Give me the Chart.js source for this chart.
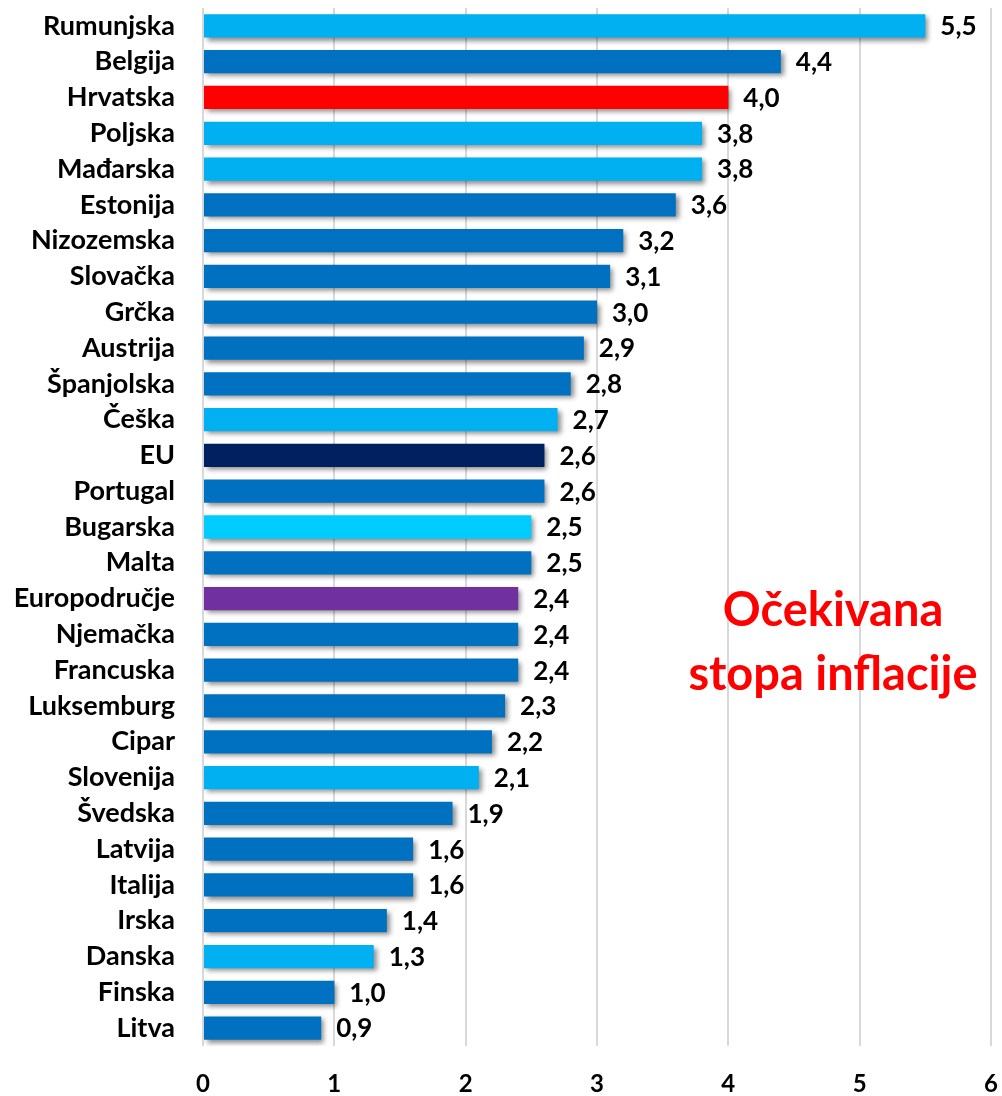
<!DOCTYPE html>
<html><head><meta charset="utf-8">
<script src="https://cdn.jsdelivr.net/npm/chart.js@4"></script>
<style>html,body{margin:0;padding:0;background:#fff;}#wrap{width:1002px;height:1096px;position:relative;}</style>
</head><body><div id="wrap"><canvas id="c" width="1002" height="1096"></canvas></div>
<script>
const categories = ["Rumunjska","Belgija","Hrvatska","Poljska","Mađarska","Estonija","Nizozemska","Slovačka","Grčka","Austrija","Španjolska","Češka","EU","Portugal","Bugarska","Malta","Europodručje","Njemačka","Francuska","Luksemburg","Cipar","Slovenija","Švedska","Latvija","Italija","Irska","Danska","Finska","Litva"];
const values = [5.5,4.4,4.0,3.8,3.8,3.6,3.2,3.1,3.0,2.9,2.8,2.7,2.6,2.6,2.5,2.5,2.4,2.4,2.4,2.3,2.2,2.1,1.9,1.6,1.6,1.4,1.3,1.0,0.9];
const barColors = ["#00B0F0","#0070C0","#FF0000","#00B0F0","#00B0F0","#0070C0","#0070C0","#0070C0","#0070C0","#0070C0","#0070C0","#00B0F0","#002060","#0070C0","#00CCFF","#0070C0","#7030A0","#0070C0","#0070C0","#0070C0","#0070C0","#00B0F0","#0070C0","#0070C0","#0070C0","#0070C0","#00B0F0","#0070C0","#0070C0"];
const xTicks = [0,1,2,3,4,5,6];
const annotationLines = ["Očekivana","stopa inflacije"];

const FONT = "Lato, 'Open Sans', sans-serif";

const shadowPlugin = {
  id:'shadow',
  beforeDatasetsDraw(chart){const c=chart.ctx;c.save();c.shadowColor='rgba(0,0,0,0.45)';c.shadowBlur=5;c.shadowOffsetX=3;c.shadowOffsetY=3;},
  afterDatasetsDraw(chart){chart.ctx.restore();}
};
const labelPlugin = {
  id:'labels',
  afterDatasetsDraw(chart){
    const c=chart.ctx;const meta=chart.getDatasetMeta(0);
    c.save();c.font="bold 26px "+FONT;c.fillStyle="#000";c.textAlign="left";c.textBaseline="middle";
    meta.data.forEach((el,i)=>{c.fillText(values[i].toFixed(1).replace('.',','),el.x+15,el.y+1);});
    c.fillStyle="#FF0000";c.font="bold 47px "+FONT;c.textAlign="center";
    const cx=833;
    c.fillText(annotationLines[0],cx,611);
    c.fillText(annotationLines[1],cx,675);
    c.restore();
  }
};

new Chart(document.getElementById('c'),{
  type:'bar',
  data:{labels:categories,datasets:[{data:values,backgroundColor:barColors,barPercentage:0.65,categoryPercentage:1.0,borderWidth:0}]},
  options:{
    indexAxis:'y',responsive:false,animation:false,devicePixelRatio:1,
    layout:{padding:{top:8,right:11,left:0,bottom:0}},
    plugins:{legend:{display:false},tooltip:{enabled:false}},
    scales:{
      x:{min:0,max:6,afterBuildTicks(s){s.ticks=xTicks.map(v=>({value:v}));},
         grid:{color:'#D9D9D9',lineWidth:2,drawTicks:false},border:{display:false},
         ticks:{font:{family:FONT,size:24,weight:'bold'},color:'#000',padding:24,maxRotation:0},
         afterFit(s){s.height=50;s.paddingLeft=0;s.paddingRight=0;}},
      y:{grid:{display:false,drawTicks:false},border:{display:false},
         ticks:{font:{family:FONT,size:27,weight:'bold'},color:'#000',padding:28,autoSkip:false},
         afterFit(s){s.width=203;s.paddingTop=0;s.paddingBottom=0;}}
    }
  },
  plugins:[shadowPlugin,labelPlugin]
});
</script></body></html>
